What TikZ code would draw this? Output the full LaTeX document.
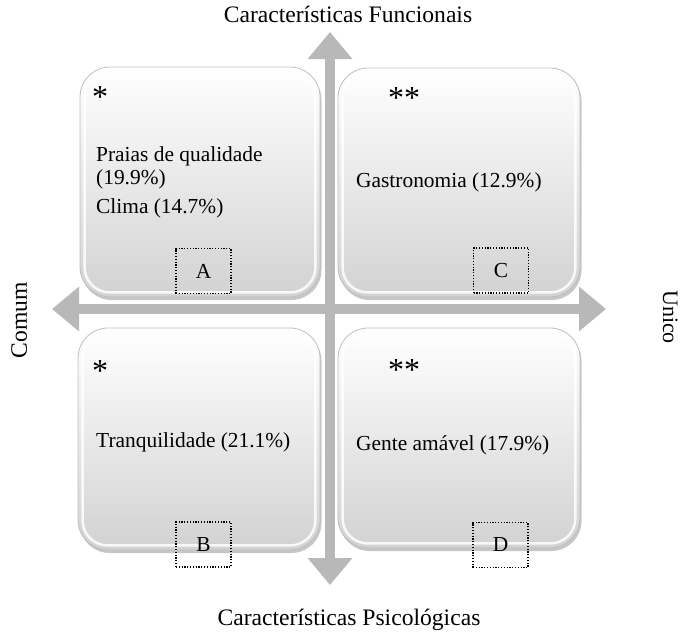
\documentclass[tikz,border=0pt]{standalone}
\usepackage{fontspec}
\setmainfont{Liberation Serif}
\usetikzlibrary{arrows.meta,shadows}
\definecolor{axisgray}{HTML}{B8B8B8}
\definecolor{boxedge}{HTML}{BEBEBE}
\definecolor{boxbottom}{HTML}{D2D2D2}
\begin{document}
\begin{tikzpicture}[x=1pt,y=-1pt,
  quadbox/.style={draw=boxedge, line width=0.8pt, rounded corners=30pt,
    top color=white, bottom color=boxbottom, inner sep=0pt,
    drop shadow={shadow xshift=1.5pt, shadow yshift=-3pt, fill=black, opacity=0.22}},
  rim/.style={draw=white, line width=2.5pt, rounded corners=25pt, opacity=0.85},
  axisarrow/.style={draw=axisgray, line width=10pt,
    {Triangle[width=43pt,length=27pt]}-{Triangle[width=43pt,length=27pt]}},
  txt/.style={inner sep=0pt, font=\fontsize{21.4}{23}\selectfont},
  ttl/.style={inner sep=0pt, font=\fontsize{23.6}{26}\selectfont},
  star/.style={inner sep=0pt, font=\fontsize{32}{34}\selectfont},
  letterbox/.style={draw=black, line width=1.2pt, dash pattern=on 1.2pt off 1.6pt,
    minimum width=55pt, minimum height=45pt, inner sep=0pt,
    font=\fontsize{21.4}{23}\selectfont}
]
\useasboundingbox[fill=white] (0,0) rectangle (681,633);

% axes
\coordinate (left) at (52,309);
\coordinate (right) at (606,309);
\coordinate (up) at (330,32);
\coordinate (down) at (330,585);
\draw[axisarrow] (left) -- (right);
\draw[axisarrow] (down) -- (up);

% quadrant boxes
\node[quadbox, minimum width=240pt, minimum height=230pt] (A) at (200,182) {};
\node[quadbox, minimum width=242pt, minimum height=229pt] (C) at (459,182.5) {};
\node[quadbox, minimum width=242pt, minimum height=222pt] (B) at (199,439) {};
\node[quadbox, minimum width=242pt, minimum height=220pt] (D) at (459,438) {};
\foreach \q in {A,B,C,D}{
  \draw[rim] ([shift={(5pt,-5pt)}]\q.north west) rectangle ([shift={(-5pt,5pt)}]\q.south east);
}

% asterisks
\node[star, anchor=base] (sA) at (100,107) {*};
\node[star, anchor=base] (sC) at (404,108) {**};
\node[star, anchor=base] (sB) at (100,381) {*};
\node[star, anchor=base] (sD) at (404,380) {**};

% texts
\node[txt, anchor=base west] (a1) at (96,161) {Praias de qualidade};
\node[txt, anchor=base west] (a2) at (96,184) {(19.9\%)};
\node[txt, anchor=base west] (a3) at (96,213) {Clima (14.7\%)};
\node[txt, anchor=base west] (c1) at (356,187) {Gastronomia (12.9\%)};
\node[txt, anchor=base west] (b1) at (96,447) {Tranquilidade (21.1\%)};
\node[txt, anchor=base west] (d1) at (356,450) {Gente amável (17.9\%)};

% letter boxes
\node[letterbox] (lA) at (203.5,271) {A};
\node[letterbox] (lC) at (501,270.5) {C};
\node[letterbox] (lB) at (203.5,544.5) {B};
\node[letterbox] (lD) at (500.5,545) {D};

% axis titles
\node[ttl, anchor=base] (tTop) at (348,22) {Características Funcionais};
\node[ttl, anchor=base] (tBot) at (349,625) {Características Psicológicas};
\node[ttl, anchor=base, rotate=90] (tLeft) at (27,320) {Comum};
\node[inner sep=0pt, font=\fontsize{22}{24}\selectfont, anchor=base, rotate=-90] (tRight) at (663,317) {Unico};
\end{tikzpicture}
\end{document}
